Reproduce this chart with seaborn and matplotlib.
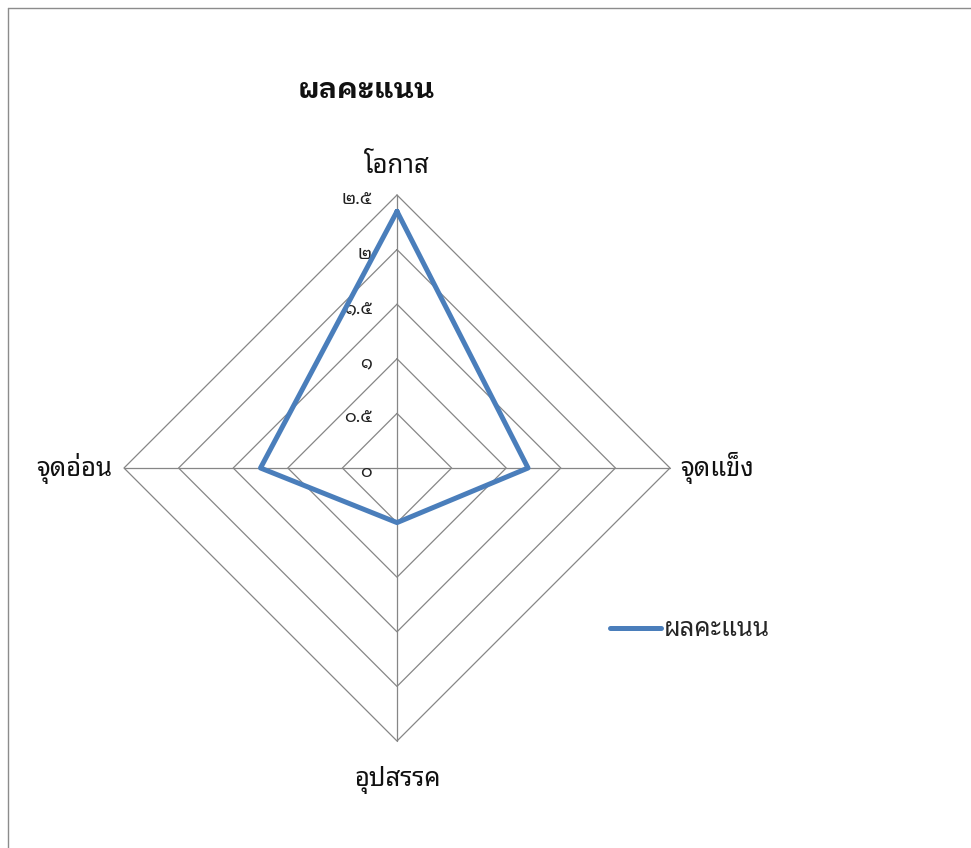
import numpy as np
import matplotlib
matplotlib.use("Agg")
import matplotlib.pyplot as plt
from matplotlib.lines import Line2D
import seaborn as sns

# --- data ---
categories = ["โอกาส", "จุดแข็ง", "อุปสรรค", "จุดอ่อน"]
scores = [2.35, 1.2, 0.5, 1.25]
series_name = "ผลคะแนน"
ring_values = [0.5, 1.0, 1.5, 2.0, 2.5]
tick_values = [0, 0.5, 1.0, 1.5, 2.0, 2.5]
tick_labels = ["๐", "๐.๕", "๑", "๑.๕", "๒", "๒.๕"]
r_max = 2.5

sns.set_theme(style="white")
plt.rcParams["font.family"] = ["Noto Sans Thai Looped", "DejaVu Sans"]

grid_color = "#868686"
line_color = "#4a7ebb"

fig = plt.figure(figsize=(9.71, 8.48), dpi=100)
# axes placed so that the 2.5 ring is 273 px from the centre at (397, 468)
ax = fig.add_axes([124 / 971, (848 - 741) / 848, 546 / 971, 546 / 848])
ax.set_xlim(-r_max, r_max)
ax.set_ylim(-r_max, r_max)
ax.axis("off")

# angles clockwise from top
angles = np.arange(len(categories)) * 2 * np.pi / len(categories)
dx, dy = np.round(np.sin(angles), 12), np.round(np.cos(angles), 12)

# polygon grid rings
for r in ring_values:
    xs = np.append(r * dx, r * dx[0])
    ys = np.append(r * dy, r * dy[0])
    ax.plot(xs, ys, color=grid_color, lw=0.9, clip_on=False, zorder=1)
# spokes
for x, y in zip(dx, dy):
    ax.plot([0, r_max * x], [0, r_max * y], color=grid_color, lw=0.9, clip_on=False, zorder=1)

# tick labels along the top spoke
for v, lab in zip(tick_values, tick_labels):
    ax.annotate(lab, (0, v), xytext=(-25, -4), textcoords="offset pixels",
                ha="right", va="center", fontsize=13, color="#222222")

# data polygon
px = [s * x for s, x in zip(scores, dx)] + [scores[0] * dx[0]]
py = [s * y for s, y in zip(scores, dy)] + [scores[0] * dy[0]]
sns.lineplot(x=px, y=py, sort=False, estimator=None, color=line_color, lw=3.6, ax=ax,
             label=series_name, clip_on=False, zorder=3)

# category labels
offsets = [(0, 16, "center", "bottom"), (10, 0, "left", "center"),
           (0, -25, "center", "top"), (-12, 0, "right", "center")]
for lab, x, y, (ox, oy, ha, va) in zip(categories, dx, dy, offsets):
    ax.annotate(lab, (r_max * x, r_max * y), xytext=(ox, oy), textcoords="offset pixels",
                ha=ha, va=va, fontsize=18.5, color="#111111")

ax.legend(loc="center left", bbox_to_anchor=(610 / 971, 1 - 630 / 848),
          bbox_transform=fig.transFigure, frameon=False, fontsize=18.5,
          handlelength=2.0, handletextpad=0.1, borderpad=0, borderaxespad=0)

fig.text(366 / 971, 1 - 90 / 848, series_name, ha="center", va="center",
         fontsize=20.5, fontweight="bold", color="#111111",
         family=["IBM Plex Sans Thai Looped", "DejaVu Sans"])

# chart frame (left and top edges)
fig.add_artist(Line2D([8 / 971, 8 / 971], [0, 1 - 8 / 848], color="#8c8c8c", lw=1))
fig.add_artist(Line2D([8 / 971, 1], [1 - 8 / 848, 1 - 8 / 848], color="#8c8c8c", lw=1))

fig.savefig("out.png", dpi=100)
